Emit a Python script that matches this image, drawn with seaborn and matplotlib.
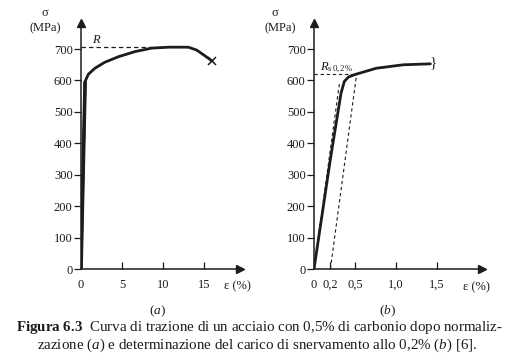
import matplotlib
matplotlib.use("Agg")
import matplotlib.pyplot as plt
import seaborn as sns

# ---- data ----
eps_a = [0, 0.5, 0.9, 1.7, 2.9, 4.6, 6.6, 8.6, 10.7, 13.1, 14.1, 15.1, 16.0]
sig_a = [0, 597, 620, 639, 658, 676, 692, 703, 706, 706, 697, 679, 662]
R_a = 706
R_a_dash_x = [0, 10.0]

eps_b = [0, 0.20, 0.33, 0.37, 0.42, 0.50, 0.76, 1.09, 1.42]
sig_b = [0, 350, 560, 597, 611, 619, 639, 650, 653]
elastic_x = [0, 0.31]
elastic_y = [0, 590]
offset_x = [0.2, 0.52]
offset_y = [0, 620]
R_b = 620
R_b_dash_x = [0, 0.50]

xticks_a = [0, 5, 10, 15]
xticklabels_a = ["0", "5", "10", "15"]
xticks_b = [0, 0.2, 0.5, 1.0, 1.5]
xticklabels_b = ["0", "0,2", "0,5", "1,0", "1,5"]
yticks = [0, 100, 200, 300, 400, 500, 600, 700]

sns.set_style("white")
plt.rcParams["font.family"] = ["Liberation Serif", "DejaVu Serif"]
plt.rcParams["mathtext.fontset"] = "custom"
plt.rcParams["mathtext.rm"] = "Liberation Serif"
plt.rcParams["mathtext.it"] = "Liberation Serif:italic"
plt.rcParams["mathtext.bf"] = "Liberation Serif:bold"

INK = "#1c1c1c"
fig = plt.figure(figsize=(5.24, 3.62), dpi=100)
fig.patch.set_facecolor("white")

axA = fig.add_axes([81/524, 93/362, 159/524, 246/362])
axB = fig.add_axes([314/524, 93/362, 168/524, 246/362])


def style_axes(ax, xmax, xticks, xlabels):
    ax.set_xlim(0, xmax)
    ax.set_ylim(0, 783)
    for s in ["top", "right"]:
        ax.spines[s].set_visible(False)
    for s in ["left", "bottom"]:
        ax.spines[s].set_color(INK)
        ax.spines[s].set_linewidth(1.1)
    ax.set_xticks(xticks)
    ax.set_xticklabels(xlabels)
    ax.set_yticks(yticks)
    ax.set_yticklabels([str(v) for v in yticks])
    ax.tick_params(axis="x", direction="in", length=5, width=0.9, pad=7,
                   labelsize=9, colors=INK, bottom=True)
    ax.tick_params(axis="y", direction="out", length=5, width=0.9, pad=1,
                   labelsize=9, colors=INK, left=True)
    ax.grid(False)
    ax.set_facecolor("none")
    ax.plot([1], [0], ">", color=INK, ms=6, transform=ax.get_yaxis_transform(),
            clip_on=False)
    ax.plot([0], [1], "^", color=INK, ms=6, transform=ax.get_xaxis_transform(),
            clip_on=False)
    ax.set_xlabel("")
    ax.set_ylabel("")


# ---- panel (a) ----
sns.lineplot(x=R_a_dash_x, y=[R_a, R_a], ax=axA, color=INK, lw=0.9,
             linestyle=(0, (3.5, 2.5)))
sns.lineplot(x=eps_a, y=sig_a, ax=axA, sort=False, estimator=None,
             color=INK, lw=2.0)
axA.plot(eps_a[:2], sig_a[:2], color=INK, lw=2.6, solid_capstyle="butt")
axA.plot([eps_a[-1]], [sig_a[-1]], marker="x", ms=6, mew=1.1, color=INK,
         clip_on=False)
axA.text(1.4, 729, "R", style="italic", fontsize=9, color=INK,
         ha="left", va="center")
style_axes(axA, 19.4, xticks_a, xticklabels_a)

# ---- panel (b) ----
sns.lineplot(x=elastic_x, y=elastic_y, ax=axB, color=INK, lw=0.8,
             linestyle=(0, (3, 2.5)))
sns.lineplot(x=offset_x, y=offset_y, ax=axB, color=INK, lw=0.8,
             linestyle=(0, (3, 2.5)))
sns.lineplot(x=R_b_dash_x, y=[R_b, R_b], ax=axB, color=INK, lw=0.8,
             linestyle=(0, (3, 2.5)))
sns.lineplot(x=eps_b, y=sig_b, ax=axB, sort=False, estimator=None,
             color=INK, lw=2.0)
axB.text(eps_b[-1] + 0.03, sig_b[-1] + 2, "}", fontsize=11, color=INK,
         ha="center", va="center")
axB.text(0.07, 641, r"$R_{\mathrm{s\,0,2\%}}$", fontsize=9, color=INK,
         ha="left", va="center")
style_axes(axB, 2.05, xticks_b, xticklabels_b)

# ---- axis titles ----
for xc, xm in [(45, 45), (275, 280)]:
    fig.text(xc/524, 1 - 13/362, "σ", fontsize=9, ha="center", va="center", color=INK)
    fig.text(xm/524, 1 - 28/362, "(MPa)", fontsize=9, ha="center", va="center", color=INK)
fig.text(237/524, 1 - 286/362, "ε (%)", fontsize=9, ha="center", va="center", color=INK)
fig.text(476/524, 1 - 287/362, "ε (%)", fontsize=9, ha="center", va="center", color=INK)

fig.text(157/524, 1 - 311/362, r"($\mathit{a}$)", fontsize=9.5, ha="center",
         va="center", color=INK)
fig.text(387/524, 1 - 311/362, r"($\mathit{b}$)", fontsize=9.5, ha="center",
         va="center", color=INK)

fig.text(259/524, 1 - 327/362,
         r"$\mathbf{Figura\ 6.3}$  Curva di trazione di un acciaio con 0,5% di carbonio dopo normaliz-",
         fontsize=10.8, ha="center", va="center", color=INK)
fig.text(257/524, 1 - 345/362,
         r"zazione ($\mathit{a}$) e determinazione del carico di snervamento allo 0,2% ($\mathit{b}$) [6].",
         fontsize=10.8, ha="center", va="center", color=INK)

fig.savefig("out.png", dpi=100, facecolor="white")
